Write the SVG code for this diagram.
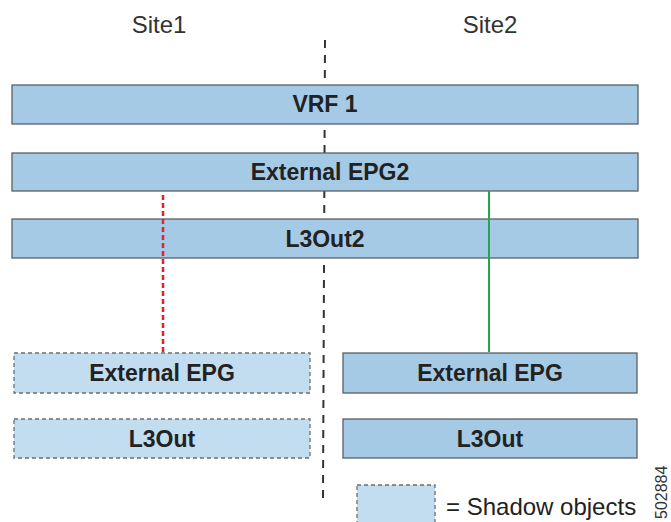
<svg xmlns="http://www.w3.org/2000/svg" width="671" height="522" viewBox="0 0 671 522">
<style>
.box{fill:#a5cae6;stroke:#5a6066;stroke-width:1.3}
.shadow{fill:#c2dcf0;stroke:#6a6f74;stroke-width:1.3;stroke-dasharray:4 3}
.lbl{font-family:"Liberation Sans",Arial,sans-serif;font-weight:bold;font-size:23px;fill:#222;text-anchor:middle}
.site{font-family:"Liberation Sans",Arial,sans-serif;font-size:24px;fill:#333;text-anchor:middle}
</style>
<rect width="671" height="522" fill="#fff"/>
<text class="site" x="159" y="33">Site1</text>
<text class="site" x="490" y="33">Site2</text>
<g id="divider">
<line x1="325" y1="40" x2="323" y2="498" stroke="#333" stroke-width="2" stroke-dasharray="8 7"/>
</g>
<g id="vrf1"><rect class="box" x="12" y="85" width="626" height="39"/><text class="lbl" x="325" y="112">VRF 1</text></g>
<g id="extepg2"><rect class="box" x="12" y="153" width="626" height="38"/><text class="lbl" x="330" y="180">External EPG2</text></g>
<g id="l3out2"><rect class="box" x="12" y="219" width="626" height="39"/><text class="lbl" x="325" y="247">L3Out2</text></g>
<g id="connectors">
<line x1="163" y1="195" x2="163" y2="352" stroke="#e8202a" stroke-width="2.5" stroke-dasharray="5 3"/>
<line x1="489" y1="191" x2="489" y2="352" stroke="#22a84a" stroke-width="2"/>
</g>
<g id="site1-extepg"><rect class="shadow" x="14" y="353" width="296" height="40"/><text class="lbl" x="162" y="381">External EPG</text></g>
<g id="site2-extepg"><rect class="box" x="343" y="353" width="294" height="40"/><text class="lbl" x="490" y="381">External EPG</text></g>
<g id="site1-l3out"><rect class="shadow" x="14" y="419" width="296" height="39"/><text class="lbl" x="162" y="447">L3Out</text></g>
<g id="site2-l3out"><rect class="box" x="343" y="419" width="294" height="39"/><text class="lbl" x="490" y="447">L3Out</text></g>
<g id="legend">
<rect class="shadow" x="357" y="485" width="78" height="40"/>
<text x="446" y="515" font-family="'Liberation Sans',Arial,sans-serif" font-size="24" fill="#222">= Shadow objects</text>
</g>
<text transform="translate(667,519) rotate(-90)" font-family="'Liberation Sans',Arial,sans-serif" font-size="16" fill="#333">502884</text>
</svg>
